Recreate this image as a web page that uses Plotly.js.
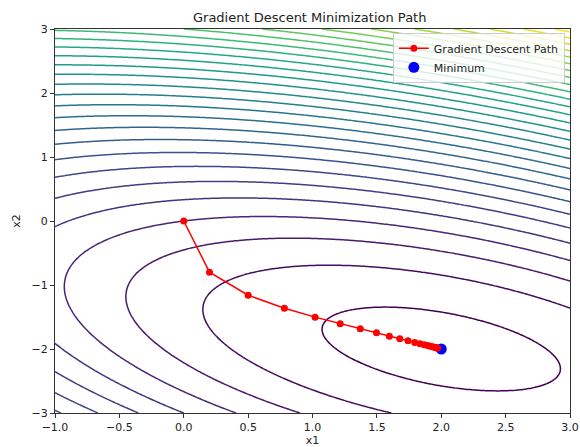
<!DOCTYPE html>
<html>
<head>
<meta charset="utf-8">
<script src="https://cdn.plot.ly/plotly-3.0.1.min.js"></script>
<style>html,body{margin:0;padding:0;background:#fff;}#chart{width:580px;height:447px;}</style>
</head>
<body>
<div id="chart"></div>
<script>
// Quadratic objective f(x) = 0.5 x^T Q x - b^T x
var Q = [[3, 2], [2, 6]];
var bvec = [2, -8];
var xRange = [-1, 3];
var yRange = [-3, 3];
var levelStart = -9, levelEnd = 75, levelStep = 3;

// Gradient descent path
var pathX = [0, 0.2, 0.5, 0.782, 1.020, 1.215, 1.371, 1.497, 1.597, 1.678, 1.742, 1.794, 1.835, 1.868, 1.894, 1.916, 1.932, 1.946, 1.957, 1.965, 1.972];
var pathY = [0, -0.8, -1.16, -1.364, -1.502, -1.605, -1.685, -1.748, -1.799, -1.839, -1.871, -1.897, -1.918, -1.934, -1.947, -1.958, -1.966, -1.973, -1.978, -1.983, -1.986];
var minX = [2];
var minY = [-2];

var N = 200;
var gx = [], gy = [], gz = [];
for (var i = 0; i < N; i++) gx.push(xRange[0] + (xRange[1] - xRange[0]) * i / (N - 1));
for (var j = 0; j < N; j++) gy.push(yRange[0] + (yRange[1] - yRange[0]) * j / (N - 1));
for (var j = 0; j < N; j++) {
  var row = [];
  for (var i = 0; i < N; i++) {
    var x1 = gx[i], x2 = gy[j];
    row.push(0.5 * (Q[0][0]*x1*x1 + 2*Q[0][1]*x1*x2 + Q[1][1]*x2*x2) - bvec[0]*x1 - bvec[1]*x2);
  }
  gz.push(row);
}

var traces = [
  {
    type: 'contour', x: gx, y: gy, z: gz,
    autocontour: false,
    contours: {start: levelStart, end: levelEnd, size: levelStep, coloring: 'lines', showlabels: false},
    colorscale: 'Viridis', zauto: false, zmin: levelStart, zmax: levelEnd,
    line: {width: 1.5, smoothing: 1},
    showscale: false, showlegend: false, hoverinfo: 'skip'
  },
  {
    type: 'scatter', mode: 'markers', x: minX, y: minY, name: 'Minimum',
    marker: {color: 'blue', size: 11}, legendrank: 2
  },
  {
    type: 'scatter', mode: 'lines+markers', x: pathX, y: pathY, name: 'Gradient Descent Path',
    line: {color: 'red', width: 1.5}, marker: {color: 'red', size: 7}, legendrank: 1
  }
];

var axisCommon = {
  showgrid: false, zeroline: false, showline: true, linecolor: '#333', linewidth: 1, mirror: true,
  ticks: 'outside', ticklen: 4, tickcolor: '#333', tickfont: {size: 11, color: '#222'}
};

var layout = {
  width: 580, height: 447,
  margin: {l: 55, r: 10, t: 29, b: 34},
  paper_bgcolor: '#fff', plot_bgcolor: '#fff',
  font: {family: 'DejaVu Sans', color: '#222'},
  title: {text: 'Gradient Descent Minimization Path', font: {size: 13, color: '#222'}, x: 0.534, xanchor: 'center', y: 0.962, yanchor: 'middle'},
  xaxis: Object.assign({}, axisCommon, {range: xRange, dtick: 0.5, tick0: -1, tickformat: '.1f', title: {text: 'x1', font: {size: 11}, standoff: 3}}),
  yaxis: Object.assign({}, axisCommon, {range: yRange, dtick: 1, tick0: -3, title: {text: 'x2', font: {size: 11}, standoff: 8}}),
  legend: {x: 0.99, y: 0.99, xanchor: 'right', yanchor: 'top', bgcolor: 'rgba(255,255,255,0.8)', bordercolor: '#ccc', borderwidth: 1, font: {size: 11}, tracegroupgap: 0}
};

Plotly.newPlot('chart', traces, layout, {displayModeBar: false, staticPlot: true});
</script>
</body>
</html>
